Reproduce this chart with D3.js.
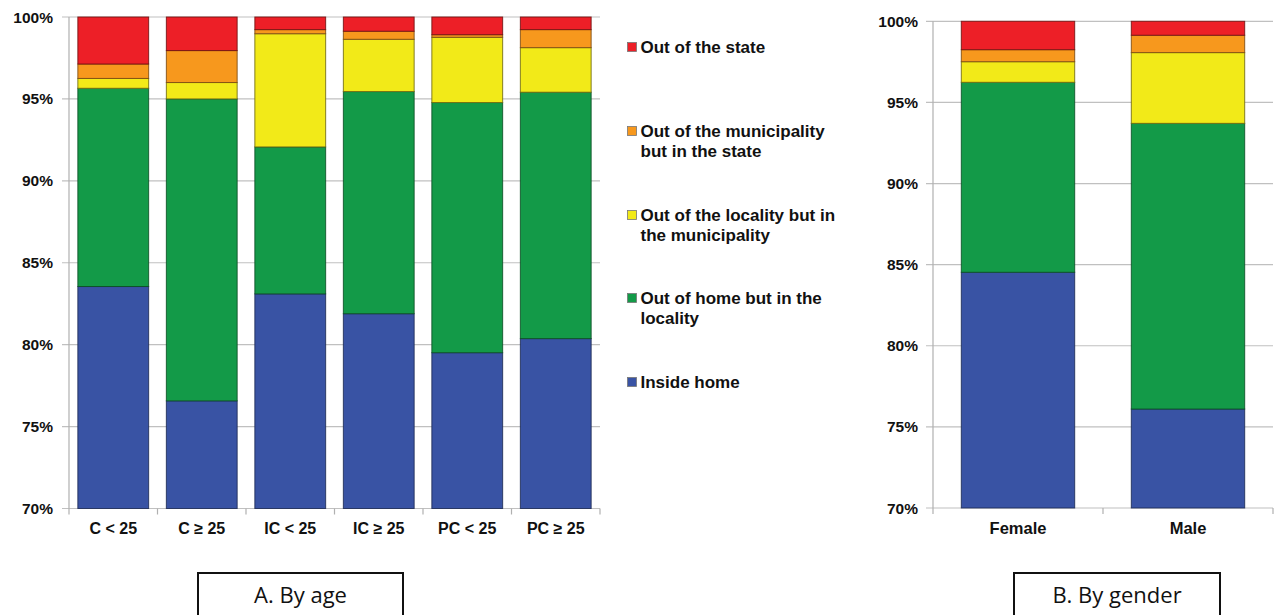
<!DOCTYPE html>
<html><head><meta charset="utf-8">
<script src="https://cdn.jsdelivr.net/npm/d3@7"></script>
<style>body{margin:0;background:#fff}svg{display:block}</style>
</head><body>
<svg id="c" width="1280" height="615"></svg>
<script>
const seriesNames = ["Inside home","Out of home but in the locality","Out of the locality but in the municipality","Out of the municipality but in the state","Out of the state"];
const seriesColors = ["#3953A4","#139A48","#F2EA18","#F7981D","#ED1F27"];
const legendLines = [["Out of the state"],["Out of the municipality","but in the state"],["Out of the locality but in","the municipality"],["Out of home but in the","locality"],["Inside home"]];
const ageCategories = ["C < 25","C ≥ 25","IC < 25","IC ≥ 25","PC < 25","PC ≥ 25"];
const ageInsideHome   = [83.55, 76.57, 83.10, 81.89, 79.51, 80.37];
const ageOutHome      = [12.10, 18.43,  8.97, 13.56, 15.27, 15.04];
const ageOutLocality  = [ 0.60,  1.00,  6.91,  3.19,  3.98,  2.72];
const ageOutMuni      = [ 0.88,  1.95,  0.25,  0.49,  0.16,  1.10];
const ageOutState     = [ 2.87,  2.05,  0.77,  0.87,  1.08,  0.77];
const genderCategories = ["Female","Male"];
const genInsideHome   = [84.53, 76.10];
const genOutHome      = [11.71, 17.61];
const genOutLocality  = [ 1.27,  4.36];
const genOutMuni      = [ 0.74,  1.07];
const genOutState     = [ 1.75,  0.86];
const yTicks = [70,75,80,85,90,95,100];
const panelTitles = ["A. By age","B. By gender"];

const svg = d3.select("#c");
const strokes = ["#1c2a55","#0b4f25","#6f6a10","#7a4a10","#70100f"];
const FONT = "'Liberation Sans', Arial, sans-serif";

function panel(cfg){
  const g = svg.append("g");
  const x = d3.scaleBand().domain(cfg.cats).range([cfg.x0,cfg.x1]).paddingInner(cfg.pad).paddingOuter(cfg.pad/2);
  const y = d3.scaleLinear().domain([70,100]).range([cfg.yb,cfg.yt]);
  g.selectAll("line.grid").data(yTicks).join("line")
    .attr("x1",cfg.x0-7).attr("x2",cfg.x1).attr("y1",d=>y(d)).attr("y2",d=>y(d))
    .attr("stroke","#C0C0C0").attr("stroke-width",1.2);
  g.append("line").attr("x1",cfg.x0).attr("x2",cfg.x0).attr("y1",cfg.yt).attr("y2",cfg.yb)
    .attr("stroke","#B0B0B0").attr("stroke-width",1.2);
  const bounds = [cfg.x0].concat(cfg.cats.map(c=>x(c)+x.bandwidth()+x.step()*cfg.pad/2));
  g.selectAll("line.xt").data(bounds).join("line")
    .attr("x1",d=>d).attr("x2",d=>d).attr("y1",cfg.yb).attr("y2",cfg.yb+6)
    .attr("stroke","#B0B0B0").attr("stroke-width",1.2);
  g.selectAll("text.yl").data(yTicks).join("text")
    .attr("x",cfg.labX).attr("y",d=>y(d)).attr("dy","0.36em").attr("text-anchor","end")
    .attr("font-family",FONT).attr("font-weight","bold").attr("font-size",15.5)
    .attr("fill","#111").text(d=>d+"%");
  const rows = cfg.cats.map((c,i)=>{const o={cat:c}; cfg.series.forEach((s,j)=>o[j]=s[i]); return o;});
  const stack = d3.stack().keys(d3.range(cfg.series.length))(rows);
  stack.forEach((layer,j)=>{
    g.selectAll(null).data(layer).join("rect")
      .attr("x",d=>x(d.data.cat)).attr("width",x.bandwidth())
      .attr("y",d=>y(Math.min(100,d[1]))).attr("height",d=>Math.max(0,y(Math.max(70,d[0]))-y(Math.min(100,d[1]))))
      .attr("fill",seriesColors[j]).attr("stroke",strokes[j]).attr("stroke-width",1).attr("stroke-opacity",0.85);
  });
  g.selectAll("text.xl").data(cfg.cats).join("text")
    .attr("x",d=>x(d)+x.bandwidth()/2).attr("y",cfg.yb+20).attr("dy","0.36em").attr("text-anchor","middle")
    .attr("font-family",FONT).attr("font-weight","bold").attr("font-size",cfg.xfs)
    .attr("fill","#111").text(d=>d);
  g.append("rect").attr("x",cfg.bx).attr("y",573).attr("width",cfg.bw).attr("height",60)
    .attr("fill","none").attr("stroke","#111").attr("stroke-width",2);
  g.append("text").attr("x",cfg.bx+cfg.bw/2).attr("y",595).attr("dy","0.36em").attr("text-anchor","middle")
    .attr("font-family","'Open Sans', sans-serif").attr("font-size",22).attr("fill","#111").text(cfg.title);
}

panel({cats:ageCategories, series:[ageInsideHome,ageOutHome,ageOutLocality,ageOutMuni,ageOutState],
  x0:69,x1:600,yt:17,yb:508.5,pad:0.2,labX:53,xfs:16,bx:198,bw:205,title:panelTitles[0]});
panel({cats:genderCategories, series:[genInsideHome,genOutHome,genOutLocality,genOutMuni,genOutState],
  x0:933,x1:1273,yt:21.3,yb:508,pad:0.333,labX:918,xfs:16.5,bx:1014,bw:206,title:panelTitles[1]});

const legY = [47,131,215,298,382];
const order = [4,3,2,1,0];
const lg = svg.append("g");
order.forEach((si,k)=>{
  lg.append("rect").attr("x",627.5).attr("y",legY[k]-4.5).attr("width",9).attr("height",9)
    .attr("fill",seriesColors[si]).attr("stroke","#777").attr("stroke-width",0.8);
  legendLines[k].forEach((t,li)=>{
    lg.append("text").attr("x",640.5).attr("y",legY[k]+li*20).attr("dy","0.36em")
      .attr("font-family",FONT).attr("font-weight","bold").attr("font-size",17)
      .attr("fill","#111").text(t);
  });
});
</script>
</body></html>
